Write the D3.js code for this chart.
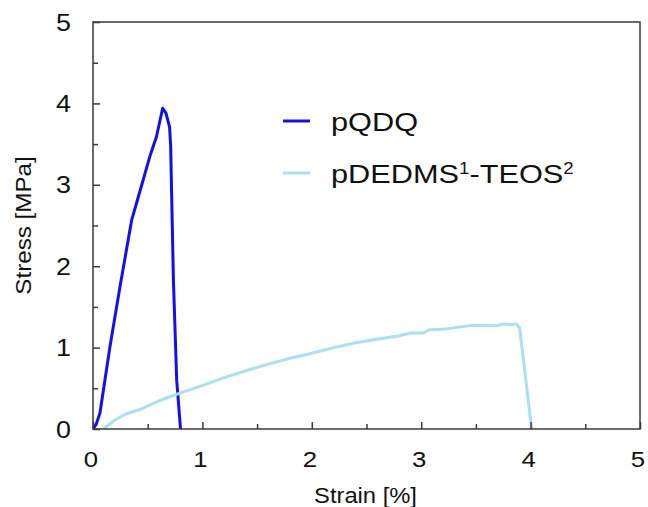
<!DOCTYPE html>
<html>
<head>
<meta charset="utf-8">
<script src="https://cdn.jsdelivr.net/npm/d3@7"></script>
<style>
  body { margin: 0; background: #fff; }
  svg { display: block; font-family: "Liberation Sans", Arial, sans-serif; }
</style>
</head>
<body>
<svg id="chart" width="648" height="507"></svg>
<script>
// strain [%] and stress [MPa]
const qdqStrain = [0, 0.03, 0.064, 0.155, 0.247, 0.354, 0.414, 0.52, 0.58, 0.637, 0.667, 0.70, 0.71, 0.735, 0.765, 0.80];
const qdqStress = [0, 0.06, 0.2, 1.01, 1.75, 2.57, 2.85, 3.35, 3.59, 3.94, 3.88, 3.71, 3.47, 1.83, 0.6, 0];

const tesStrain = [0.094, 0.2, 0.31, 0.43, 0.61, 0.795, 1.01, 1.22, 1.53, 1.8, 2.0, 2.2, 2.4, 2.62, 2.78, 2.90, 3.02, 3.08, 3.23, 3.45, 3.69, 3.75, 3.81, 3.87, 3.90, 4.01];
const tesStress = [0, 0.11, 0.19, 0.24, 0.35, 0.44, 0.54, 0.64, 0.77, 0.87, 0.93, 1.0, 1.06, 1.11, 1.14, 1.18, 1.18, 1.22, 1.23, 1.27, 1.27, 1.29, 1.28, 1.29, 1.24, 0];

const majorTicks = [0, 1, 2, 3, 4, 5];
const minorTicks = [0.5, 1.5, 2.5, 3.5, 4.5];

const series = [
  { name: "pQDQ", color: "#1010f0", strain: qdqStrain, stress: qdqStress },
  { name: "pDEDMS", color: "#a8e0f6", strain: tesStrain, stress: tesStress },
];

const svg = d3.select("#chart");
const margin = { top: 22, right: 8, bottom: 78, left: 93 };
const width = 648, height = 507;

const x = d3.scaleLinear().domain([0, 5]).range([margin.left, width - margin.right]);
const y = d3.scaleLinear().domain([0, 5]).range([height - margin.bottom, margin.top]);

const axisColor = "#3a3a3a";
const textColor = "#111";

// lines
const line = d3.line().x((d) => x(d[0])).y((d) => y(d[1]));
series.forEach((s) => {
  svg.append("path")
    .datum(s.strain.map((v, i) => [v, s.stress[i]]))
    .attr("fill", "none")
    .attr("stroke", s.color)
    .attr("stroke-width", 3)
    .attr("stroke-linejoin", "round")
    .attr("d", line);
});

// frame
svg.append("rect")
  .attr("x", x(0)).attr("y", y(5))
  .attr("width", x(5) - x(0)).attr("height", y(0) - y(5))
  .attr("fill", "none").attr("stroke", axisColor).attr("stroke-width", 1.5);

// inward ticks
const gx = svg.append("g").attr("transform", `translate(0,${y(0)})`);
gx.call(d3.axisTop(x).tickValues(majorTicks).tickSize(7).tickFormat(""));
gx.append("g").call(d3.axisTop(x).tickValues(minorTicks).tickSize(5).tickFormat(""));
const gy = svg.append("g").attr("transform", `translate(${x(0)},0)`);
gy.call(d3.axisRight(y).tickValues(majorTicks).tickSize(7).tickFormat(""));
gy.append("g").call(d3.axisRight(y).tickValues(minorTicks).tickSize(5).tickFormat(""));
svg.selectAll(".domain").remove();
svg.selectAll(".tick line").attr("stroke", axisColor).attr("stroke-width", 1.5);

// tick labels
svg.append("g").selectAll("text").data(majorTicks).join("text")
  .attr("transform", (d) => `translate(${x(d) - 2},${y(0) + 38}) scale(1.12,1)`)
  .attr("text-anchor", "middle").attr("font-size", 23).attr("fill", textColor)
  .text((d) => d);
svg.append("g").selectAll("text").data(majorTicks).join("text")
  .attr("transform", (d) => `translate(${x(0) - 22},${y(d) + 8.5}) scale(1.12,1)`)
  .attr("text-anchor", "end").attr("font-size", 24).attr("fill", textColor)
  .text((d) => d);

// axis titles
svg.append("text")
  .attr("transform", `translate(${(x(0) + x(5)) / 2 - 1},503) scale(1.08,1)`)
  .attr("text-anchor", "middle").attr("font-size", 22).attr("fill", textColor)
  .text("Strain [%]");
svg.append("text")
  .attr("transform", `translate(31,${(y(0) + y(5)) / 2}) rotate(-90) scale(1.1,1)`)
  .attr("text-anchor", "middle").attr("font-size", 22).attr("fill", textColor)
  .text("Stress [MPa]");

// legend
const legend = svg.append("g");
series.forEach((s, i) => {
  const ly = 121 + i * 52;
  legend.append("line")
    .attr("x1", 283).attr("x2", 310).attr("y1", ly).attr("y2", ly)
    .attr("stroke", s.color).attr("stroke-width", 3);
  const t = legend.append("text")
    .attr("transform", `translate(331,${ly + 10}) scale(1.16,1)`)
    .attr("font-size", 26.5).attr("fill", textColor);
  if (i === 0) {
    t.text(s.name);
  } else {
    t.append("tspan").text("pDEDMS");
    t.append("tspan").attr("font-size", 16).attr("dy", -9).text("1");
    t.append("tspan").attr("dy", 9).text("-TEOS");
    t.append("tspan").attr("font-size", 16).attr("dy", -9).text("2");
  }
});
</script>
</body>
</html>
